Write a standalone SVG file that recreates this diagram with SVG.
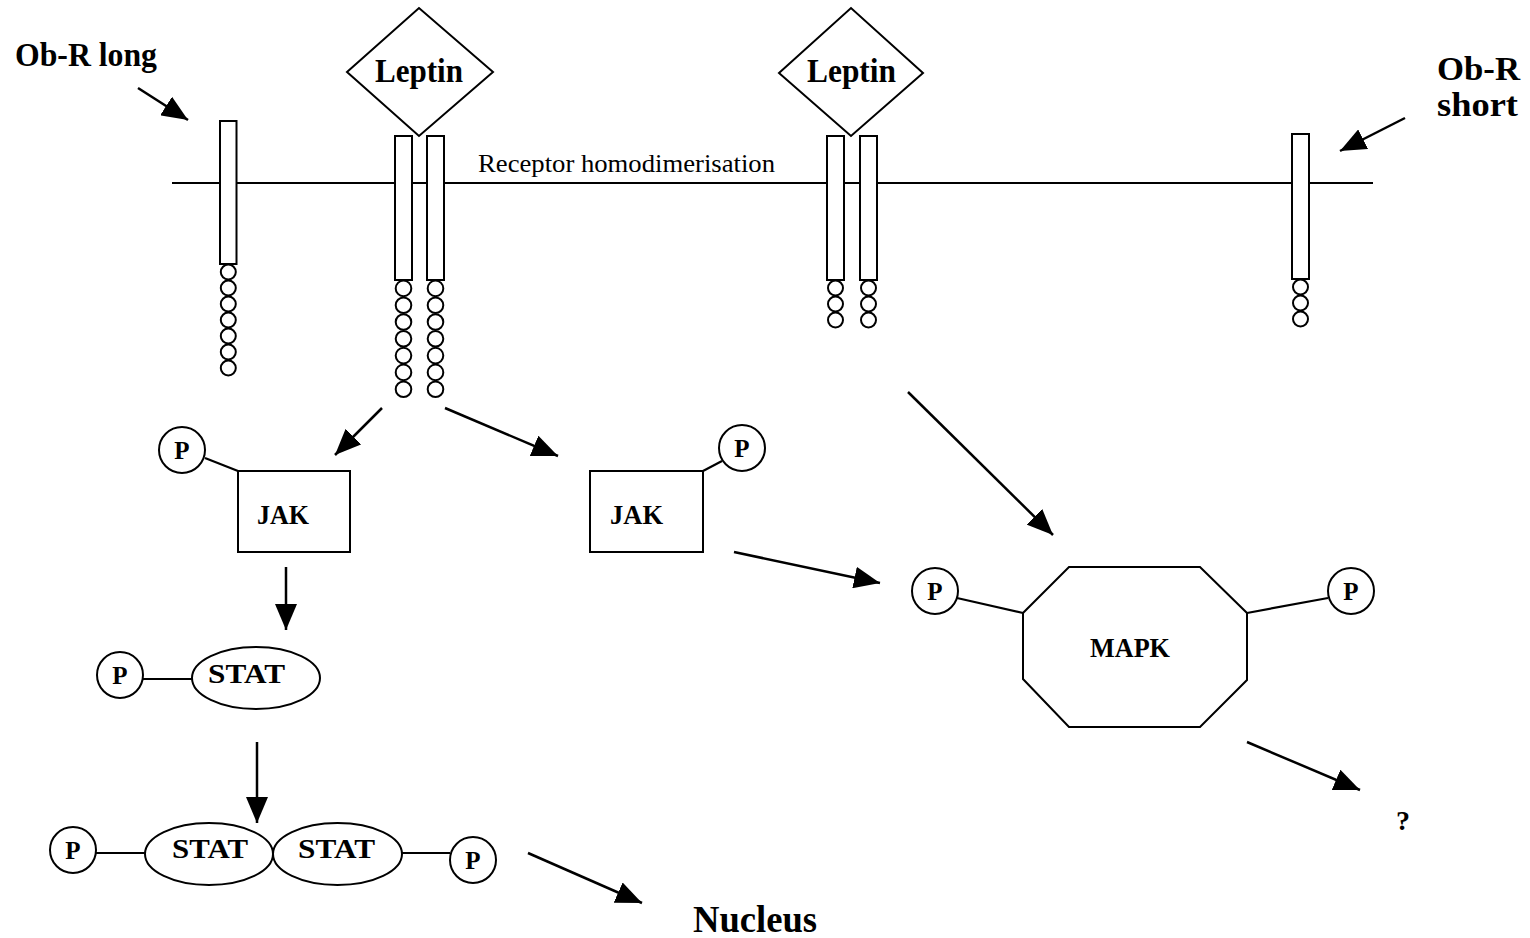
<svg xmlns="http://www.w3.org/2000/svg" width="1530" height="938" viewBox="0 0 1530 938">
<style>
.s{fill:#fff;stroke:#000;stroke-width:2}
.c{fill:#fff;stroke:#000;stroke-width:2}
.ln{stroke:#000;stroke-width:2.2;fill:none}
.ar{stroke:#000;stroke-width:2.5;fill:none;marker-end:url(#ah)}
.b{font-family:"Liberation Serif","Times New Roman",serif;font-weight:bold;fill:#000}
.r{font-family:"Liberation Serif","Times New Roman",serif;fill:#000}
.m{text-anchor:middle}
.p{font-family:"Liberation Serif","Times New Roman",serif;font-weight:bold;font-size:25px;text-anchor:middle}
</style>
<defs>
<marker id="ah" viewBox="0 0 26 22" refX="26" refY="11" markerWidth="26" markerHeight="22" markerUnits="userSpaceOnUse" orient="auto">
<path d="M0,0 L26,11 L0,22 z" fill="#000"/>
</marker>
</defs>
<rect width="1530" height="938" fill="#fff"/>

<g id="membrane">
<line class="ln" x1="172" y1="183" x2="1373" y2="183"/>
<text class="r" x="478" y="172" font-size="26" textLength="297" lengthAdjust="spacingAndGlyphs">Receptor homodimerisation</text>
</g>

<g id="label-obr-long">
<text class="b" x="15" y="66" font-size="33" textLength="142" lengthAdjust="spacingAndGlyphs">Ob-R long</text>
</g>
<g id="label-obr-short">
<text class="b" x="1437" y="80" font-size="34" textLength="83" lengthAdjust="spacingAndGlyphs">Ob-R</text>
<text class="b" x="1437" y="116" font-size="34" textLength="81" lengthAdjust="spacingAndGlyphs">short</text>
</g>

<g id="receptor-long-1">
<rect class="s" x="220" y="121" width="16.5" height="143"/>
<circle class="c" cx="228.3" cy="272" r="7.5"/>
<circle class="c" cx="228.3" cy="288" r="7.5"/>
<circle class="c" cx="228.3" cy="304" r="7.5"/>
<circle class="c" cx="228.3" cy="320" r="7.5"/>
<circle class="c" cx="228.3" cy="336" r="7.5"/>
<circle class="c" cx="228.3" cy="352" r="7.5"/>
<circle class="c" cx="228.3" cy="368" r="7.5"/>
</g>
<g id="receptor-long-2">
<rect class="s" x="395" y="136" width="17" height="144"/>
<circle class="c" cx="403.5" cy="288.4" r="7.8"/>
<circle class="c" cx="403.5" cy="305.2" r="7.8"/>
<circle class="c" cx="403.5" cy="322" r="7.8"/>
<circle class="c" cx="403.5" cy="338.8" r="7.8"/>
<circle class="c" cx="403.5" cy="355.6" r="7.8"/>
<circle class="c" cx="403.5" cy="372.4" r="7.8"/>
<circle class="c" cx="403.5" cy="389.2" r="7.8"/>
</g>
<g id="receptor-long-3">
<rect class="s" x="427" y="136" width="17" height="144"/>
<circle class="c" cx="435.5" cy="288.4" r="7.8"/>
<circle class="c" cx="435.5" cy="305.2" r="7.8"/>
<circle class="c" cx="435.5" cy="322" r="7.8"/>
<circle class="c" cx="435.5" cy="338.8" r="7.8"/>
<circle class="c" cx="435.5" cy="355.6" r="7.8"/>
<circle class="c" cx="435.5" cy="372.4" r="7.8"/>
<circle class="c" cx="435.5" cy="389.2" r="7.8"/>
</g>
<g id="receptor-short-1">
<rect class="s" x="827" y="136" width="17" height="144"/>
<circle class="c" cx="835.5" cy="288" r="7.5"/>
<circle class="c" cx="835.5" cy="304" r="7.5"/>
<circle class="c" cx="835.5" cy="320" r="7.5"/>
</g>
<g id="receptor-short-2">
<rect class="s" x="860" y="136" width="17" height="144"/>
<circle class="c" cx="868.5" cy="288" r="7.5"/>
<circle class="c" cx="868.5" cy="304" r="7.5"/>
<circle class="c" cx="868.5" cy="320" r="7.5"/>
</g>
<g id="receptor-short-3">
<rect class="s" x="1292" y="134" width="17" height="145"/>
<circle class="c" cx="1300.5" cy="287" r="7.5"/>
<circle class="c" cx="1300.5" cy="303" r="7.5"/>
<circle class="c" cx="1300.5" cy="319" r="7.5"/>
</g>

<g id="leptin-1">
<polygon class="s" points="347,72 419,8 493,72 419,136"/>
<text class="b m" x="419" y="82" font-size="34" textLength="88" lengthAdjust="spacingAndGlyphs">Leptin</text>
</g>
<g id="leptin-2">
<polygon class="s" points="779,73 851,8 923,73 851,136"/>
<text class="b m" x="851.5" y="82" font-size="34" textLength="89" lengthAdjust="spacingAndGlyphs">Leptin</text>
</g>

<g id="jak-1">
<rect class="s" x="238" y="471" width="112" height="81"/>
<text class="b m" x="283" y="524" font-size="27" textLength="52" lengthAdjust="spacingAndGlyphs">JAK</text>
<line class="ln" x1="205" y1="458" x2="238" y2="471"/>
<circle class="c" cx="182" cy="450" r="23"/>
<text class="p" x="182" y="459">P</text>
</g>
<g id="jak-2">
<rect class="s" x="590" y="471" width="113" height="81"/>
<text class="b m" x="636.5" y="524" font-size="27" textLength="53" lengthAdjust="spacingAndGlyphs">JAK</text>
<line class="ln" x1="703" y1="471" x2="722" y2="461"/>
<circle class="c" cx="742" cy="448" r="23"/>
<text class="p" x="742" y="457">P</text>
</g>

<g id="stat-1">
<line class="ln" x1="143" y1="679" x2="192" y2="679"/>
<ellipse class="s" cx="256" cy="678" rx="64" ry="31"/>
<text class="b m" x="246.5" y="683" font-size="28" textLength="77" lengthAdjust="spacingAndGlyphs">STAT</text>
<circle class="c" cx="120" cy="675" r="23"/>
<text class="p" x="120" y="684">P</text>
</g>

<g id="stat-dimer">
<line class="ln" x1="96" y1="853" x2="145" y2="853"/>
<line class="ln" x1="402" y1="853" x2="450" y2="853"/>
<ellipse class="s" cx="209" cy="854" rx="64" ry="31"/>
<ellipse class="s" cx="337.5" cy="854" rx="64.5" ry="31"/>
<text class="b m" x="210" y="858" font-size="28" textLength="76" lengthAdjust="spacingAndGlyphs">STAT</text>
<text class="b m" x="336.5" y="858" font-size="28" textLength="77" lengthAdjust="spacingAndGlyphs">STAT</text>
<circle class="c" cx="73" cy="850" r="23"/>
<text class="p" x="73" y="859">P</text>
<circle class="c" cx="473" cy="860" r="23"/>
<text class="p" x="473" y="869">P</text>
</g>

<g id="mapk">
<line class="ln" x1="957" y1="598" x2="1023" y2="613"/>
<line class="ln" x1="1247" y1="613" x2="1328" y2="598"/>
<polygon class="s" points="1069,567 1200,567 1247,613 1247,680 1200,727 1069,727 1023,679 1023,613"/>
<text class="b m" x="1130" y="657" font-size="27" textLength="80" lengthAdjust="spacingAndGlyphs">MAPK</text>
<circle class="c" cx="935" cy="591" r="23"/>
<text class="p" x="935" y="600">P</text>
<circle class="c" cx="1351" cy="591" r="23"/>
<text class="p" x="1351" y="600">P</text>
</g>

<g id="nucleus">
<text class="b" x="693" y="932" font-size="37" textLength="124" lengthAdjust="spacingAndGlyphs">Nucleus</text>
</g>
<g id="unknown">
<text class="b" x="1396" y="830" font-size="28">?</text>
</g>

<g id="connectors">
<line class="ar" x1="138" y1="88" x2="188" y2="120"/>
<line class="ar" x1="1405" y1="118" x2="1340" y2="151"/>
<line class="ar" x1="382" y1="408" x2="335" y2="455"/>
<line class="ar" x1="445" y1="408" x2="558" y2="456"/>
<line class="ar" x1="908" y1="392" x2="1053" y2="535"/>
<line class="ar" x1="734" y1="552" x2="880" y2="583"/>
<line class="ar" x1="286" y1="567" x2="286" y2="630"/>
<line class="ar" x1="257" y1="742" x2="257" y2="823"/>
<line class="ar" x1="528" y1="853" x2="642" y2="903"/>
<line class="ar" x1="1247" y1="742" x2="1360" y2="790"/>
</g>
</svg>
